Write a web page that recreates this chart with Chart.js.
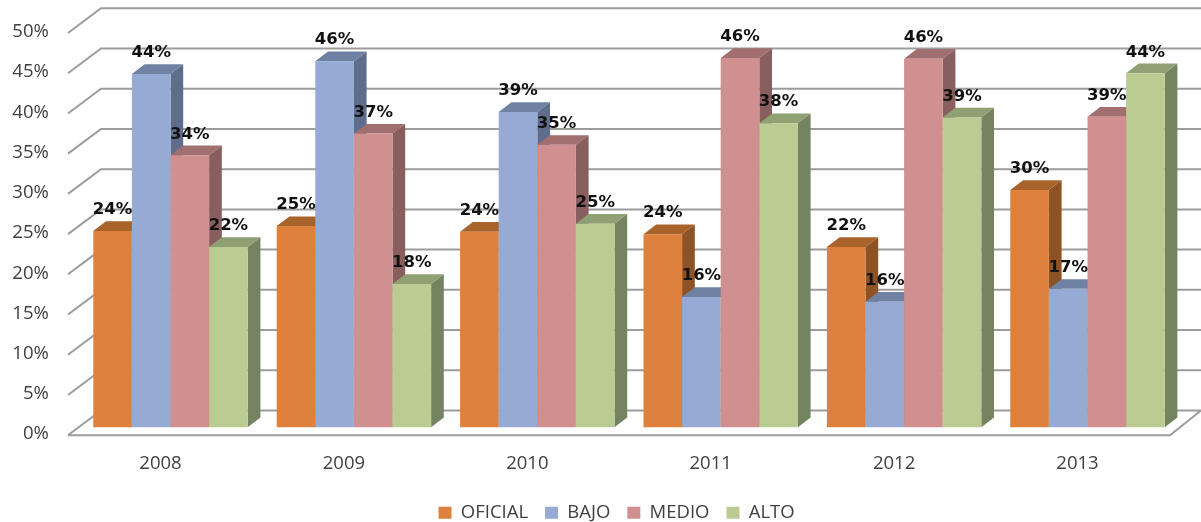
<!DOCTYPE html>
<html>
<head>
<meta charset="utf-8">
<title>Chart</title>
<script src="https://cdn.jsdelivr.net/npm/chart.js@4/dist/chart.umd.js"></script>
<style>
  html, body { margin: 0; padding: 0; background: #fff; }
  canvas { display: block; }
</style>
</head>
<body>
<canvas id="miGrafico" width="1201" height="522"></canvas>
<script>
var years = ['2008', '2009', '2010', '2011', '2012', '2013'];
var oficial = [24.4, 25.0, 24.3, 24.0, 22.4, 29.5];
var bajo = [43.9, 45.5, 39.2, 16.2, 15.6, 17.2];
var medio = [33.8, 36.5, 35.1, 45.9, 45.8, 38.6];
var alto = [22.4, 17.8, 25.3, 37.8, 38.5, 44.0];
var yTicks = [0, 5, 10, 15, 20, 25, 30, 35, 40, 45, 50];

// front, top and side colour of each series
var shades = [
  ['#dd813d', '#a8632a', '#8e5325'],
  ['#95abd3', '#6f82a3', '#5e6d8b'],
  ['#d09090', '#a26f70', '#885e5e'],
  ['#bacc92', '#8fa073', '#748461']
];

function drawDepth(c, meta, s) {
  var dx = 12.7, dy = 9.7;
  meta.data.forEach(function (b) {
    var l = b.x - b.width / 2, r = b.x + b.width / 2;
    c.fillStyle = s[1];
    c.beginPath();
    c.moveTo(l, b.y);
    c.lineTo(l + dx, b.y - dy);
    c.lineTo(r + dx, b.y - dy);
    c.lineTo(r, b.y);
    c.closePath();
    c.fill();
    c.fillStyle = s[2];
    c.beginPath();
    c.moveTo(r, b.y);
    c.lineTo(r + dx, b.y - dy);
    c.lineTo(r + dx, b.base - dy);
    c.lineTo(r, b.base);
    c.closePath();
    c.fill();
  });
}

var grid3d = {
  id: 'grid3d',
  // the tick labels sit left of the padded area, the scale clips to its own left edge
  afterLayout: function (chart) {
    chart.scales.y.left = 0;
  },
  beforeDatasetsDraw: function (chart) {
    var c = chart.ctx, y = chart.scales.y;
    var x0 = 68, x1 = 101, xEnd = 1170;
    c.save();
    c.strokeStyle = '#9c9c9c';
    c.lineWidth = 2;
    c.beginPath();
    yTicks.forEach(function (t) {
      var p = y.getPixelForValue(t);
      c.moveTo(x0, p + 8);
      c.lineTo(x1, p - 16.7);
      c.lineTo(chart.width, p - 16.7);
    });
    var p0 = y.getPixelForValue(0);
    c.moveTo(x0, p0 + 8);
    c.lineTo(xEnd, p0 + 8);
    c.lineTo(chart.width, p0 - 16.7);
    c.stroke();
    c.restore();
    // left to right, so each bar covers the side of the one before it
    chart.data.datasets.forEach(function (ds, i) {
      var meta = chart.getDatasetMeta(i);
      drawDepth(c, meta, shades[i]);
      meta.controller.draw();
    });
  },
  // already drawn above
  beforeDatasetDraw: function () {
    return false;
  },
  afterDatasetsDraw: function (chart) {
    var c = chart.ctx;
    c.save();
    c.font = 'bold 16.5px "DejaVu Sans"';
    c.fillStyle = '#111';
    c.textAlign = 'center';
    c.textBaseline = 'middle';
    chart.data.datasets.forEach(function (ds, i) {
      chart.getDatasetMeta(i).data.forEach(function (b, j) {
        c.fillText(Math.round(ds.data[j]) + '%', b.x, b.y - 21);
      });
    });
    c.restore();
  }
};

function serie(name, values, i) {
  return {
    label: name,
    data: values,
    backgroundColor: shades[i][0],
    borderWidth: 0
  };
}

var ctx = document.getElementById('miGrafico').getContext('2d');
var miGrafico = new Chart(ctx, {
  type: 'bar',
  data: {
    labels: years,
    datasets: [
      serie('OFICIAL', oficial, 0),
      serie('BAJO', bajo, 1),
      serie('MEDIO', medio, 2),
      serie('ALTO', alto, 3)
    ]
  },
  plugins: [grid3d],
  options: {
    responsive: false,
    animation: false,
    layout: { padding: { top: 25, right: 21.8, left: 54, bottom: -10 } },
    datasets: { bar: { categoryPercentage: 0.842, barPercentage: 1 } },
    plugins: {
      tooltip: { enabled: false },
      legend: {
        position: 'bottom',
        labels: {
          boxWidth: 13,
          boxHeight: 12,
          padding: 17,
          color: '#404040',
          font: { family: '"Open Sans"', size: 18.5 }
        }
      }
    },
    scales: {
      x: {
        afterFit: function (s) { s.height = 59.3; },
        grid: { display: false },
        border: { display: false },
        ticks: {
          color: '#404040',
          padding: 17,
          labelOffset: -10,
          maxRotation: 0,
          font: { family: '"Open Sans"', size: 18.5 }
        }
      },
      y: {
        min: 0,
        max: 50,
        afterFit: function (s) {
          s.width = 24.8;
          s.paddingTop = 0;
          s.paddingBottom = 0;
        },
        afterBuildTicks: function (s) {
          s.ticks = yTicks.map(function (t) { return { value: t }; });
        },
        grid: { display: false, drawTicks: false },
        border: { display: false },
        ticks: {
          color: '#404040',
          padding: 30,
          labelOffset: 7,
          font: { family: '"Open Sans"', size: 18.5 },
          callback: function (v) { return v + '%'; }
        }
      }
    }
  }
});
</script>
</body>
</html>
